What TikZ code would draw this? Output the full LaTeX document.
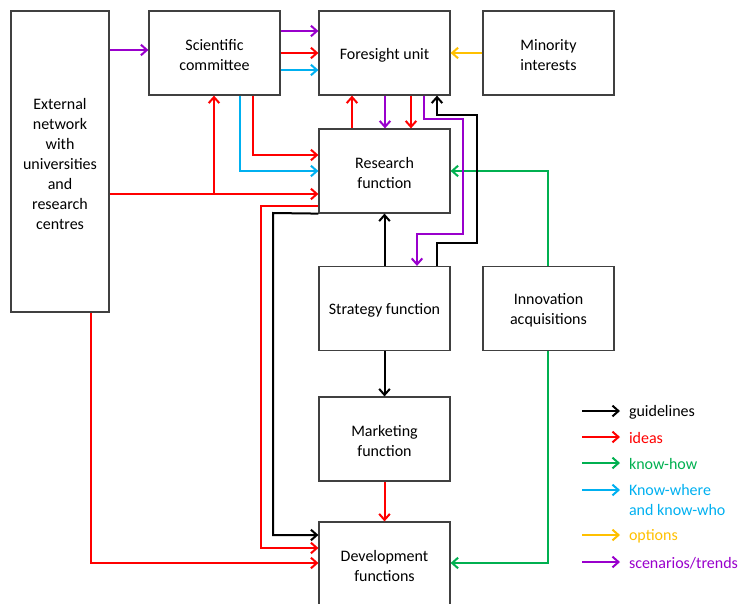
\documentclass[tikz,border=0pt]{standalone}
\usepackage{fontspec}
\setmainfont{Carlito}
\usetikzlibrary{arrows.meta}
\definecolor{cred}{RGB}{255,0,0}
\definecolor{cpurple}{RGB}{153,0,204}
\definecolor{cblue}{RGB}{0,176,240}
\definecolor{cgreen}{RGB}{0,176,80}
\definecolor{corange}{RGB}{255,192,0}
\definecolor{cbox}{RGB}{64,64,64}
\tikzset{
  boxst/.style={draw=cbox, line width=0.9pt, rectangle, inner sep=0pt,
    minimum width=98.25pt, minimum height=63pt,
    label={[boxtext]center:{#1}}},
  boxtext/.style={align=center, inner sep=0pt, yshift=-1.5pt, font=\fontsize{12}{15}\selectfont},
  conn/.style={line width=1.5pt, -{Straight Barb[length=4.5pt,width=8pt]}},
  legtext/.style={anchor=west, inner sep=0pt, align=left, font=\fontsize{12}{15}\selectfont},
}
\begin{document}
\begin{tikzpicture}[x=0.75pt,y=-0.75pt]
\useasboundingbox (0,0) rectangle (744,604);
% boxes
\node[boxst={External\\network\\with\\universities\\and\\research\\centres}, minimum width=73.5pt, minimum height=225.75pt] (ext) at (60,161.5) {};
\node[boxst={Scientific\\committee}] (sc) at (214.5,53) {};
\node[boxst={Foresight unit}] (fu) at (384.5,53) {};
\node[boxst={Minority\\interests}] (mi) at (548.5,53) {};
\node[boxst={Research\\function}] (rf) at (384.5,171) {};
\node[boxst={Strategy function}] (sf) at (384.5,308.5) {};
\node[boxst={Innovation\\acquisitions}] (ia) at (548.5,308.5) {};
\node[boxst={Marketing\\function}] (mf) at (384.5,439) {};
\node[boxst={Development\\functions}] (df) at (384.5,564) {};
% connectors
\draw[conn, cpurple] (ext.east |- 0,50) -- (sc.west |- 0,50);
\draw[conn, cpurple] (sc.east |- 0,31) -- (fu.west |- 0,31);
\draw[conn, cred] (sc.east |- 0,53) -- (fu.west |- 0,53);
\draw[conn, cblue] (sc.east |- 0,70) -- (fu.west |- 0,70);
\draw[conn, corange] (mi.west) -- (fu.east);
\draw[conn, cred] (253,0 |- sc.south) |- (rf.west |- 0,155);
\draw[conn, cblue] (240,0 |- sc.south) |- (rf.west |- 0,171);
\coordinate (br) at (214,194);
\draw[conn, cred] (ext.east |- br) -- (rf.west |- br);
\draw[conn, cred] (br) -- (br |- sc.south);
\draw[conn, cred] (rf.west |- 0,206) -- (261,206) |- (df.west |- 0,548);
\draw[conn, black] (rf.south west) -- (273,213) |- (df.west |- 0,535);
\draw[conn, cred] (91,0 |- ext.south) |- (df.west |- 0,563);
\draw[conn, cgreen] (548,0 |- ia.north) |- (rf.east |- 0,171);
\draw[conn, cgreen] (548,0 |- ia.south) |- (df.east |- 0,563);
\draw[conn, cred] (352,0 |- rf.north) -- (352,0 |- fu.south);
\draw[conn, cpurple] (385,0 |- fu.south) -- (385,0 |- rf.north);
\draw[conn, cred] (411,0 |- fu.south) -- (411,0 |- rf.north);
\draw[conn, cpurple] (424,0 |- fu.south) -- (424,119) -- (463,119) -- (463,234) -- (417,234) -- (417,0 |- sf.north);
\draw[conn, black] (437,0 |- sf.north) -- (437,243) -- (477,243) -- (477,115) -- (437,115) -- (437,0 |- fu.south);
\draw[conn, black] (sf.north) -- (rf.south);
\draw[conn, black] (sf.south) -- (mf.north);
\draw[conn, cred] (mf.south) -- (df.north);
% legend
\coordinate (l1) at (582,411);
\coordinate (l2) at (582,437);
\coordinate (l3) at (582,463);
\coordinate (l4) at (582,490);
\coordinate (l5) at (582,535);
\coordinate (l6) at (582,562);
\draw[conn, black] (l1) -- ++(38,0) node[legtext, black, xshift=6pt, yshift=-1pt] (t1) {guidelines};
\draw[conn, cred] (l2) -- ++(38,0) node[legtext, cred, xshift=6pt, yshift=-1pt] (t2) {ideas};
\draw[conn, cgreen] (l3) -- ++(38,0) node[legtext, cgreen, xshift=6pt, yshift=-1pt] (t3) {know-how};
\draw[conn, cblue] (l4) -- ++(38,0) node[legtext, cblue, xshift=6pt, anchor=north west, yshift=5pt] (t4) {Know-where\\and know-who};
\draw[conn, corange] (l5) -- ++(38,0) node[legtext, corange, xshift=6pt, yshift=-1pt] (t5) {options};
\draw[conn, cpurple] (l6) -- ++(38,0) node[legtext, cpurple, xshift=6pt, yshift=-1pt] (t6) {scenarios/trends};
\end{tikzpicture}
\end{document}
